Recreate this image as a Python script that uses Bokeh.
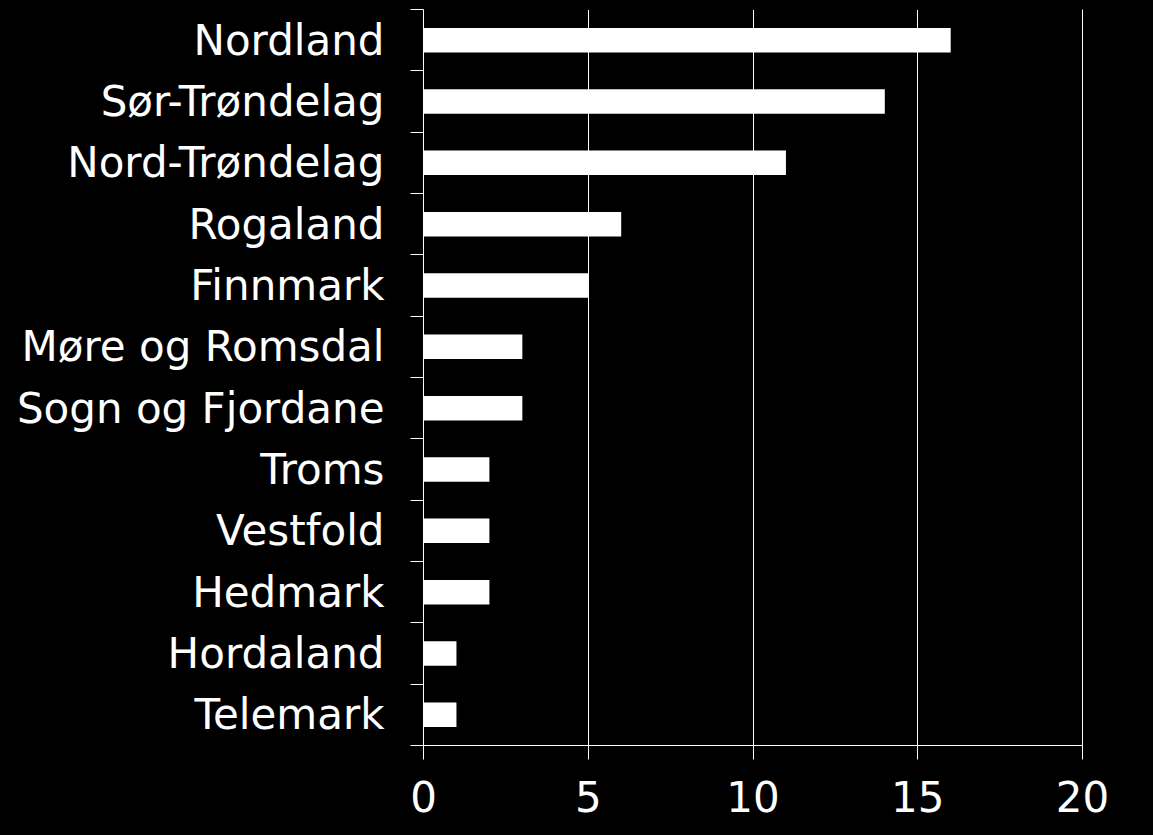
from bokeh.plotting import figure
from bokeh.models import FixedTicker, ColumnDataSource, LinearAxis
from bokeh.embed import file_html
from bokeh.resources import INLINE

regions = ["Nordland", "Sør-Trøndelag", "Nord-Trøndelag", "Rogaland", "Finnmark",
           "Møre og Romsdal", "Sogn og Fjordane", "Troms", "Vestfold", "Hedmark",
           "Hordaland", "Telemark"]
counts = [16, 14, 11, 6, 5, 3, 3, 2, 2, 2, 1, 1]
x_ticks = [0, 5, 10, 15, 20]

n = len(regions)
ypos = [n - i - 0.5 for i in range(n)]
src = ColumnDataSource(dict(y=ypos, v=counts, name=regions))

p = figure(width=1153, height=835, x_range=(0, 20), y_range=(0, n),
           output_backend="svg", toolbar_location=None,
           min_border_left=423, min_border_right=71, min_border_top=9, min_border_bottom=90)
p.background_fill_color = "black"
p.border_fill_color = "black"
p.outline_line_color = None
p.styles = {"background-color": "black"}

p.hbar(y="y", right="v", left=0, height=0.4, source=src, fill_color="white", line_color=None)

font = "DejaVu Sans"
# y axis
p.yaxis.ticker = FixedTicker(ticks=ypos, minor_ticks=list(range(0, n + 1)))
p.yaxis.major_label_overrides = {y: r for y, r in zip(ypos, regions)}
p.yaxis.major_tick_out = 0
p.yaxis.major_tick_in = 0
p.yaxis.minor_tick_out = 13
p.yaxis.minor_tick_in = 0
p.yaxis.minor_tick_line_color = "white"
p.yaxis.axis_line_color = "white"
p.yaxis.major_label_text_color = "white"
p.yaxis.major_label_text_font = font
p.yaxis.major_label_text_font_size = "42px"
p.yaxis.major_label_standoff = 26

# x axis
p.xaxis.ticker = FixedTicker(ticks=x_ticks, minor_ticks=[])
p.xaxis.major_tick_out = 14
p.xaxis.major_tick_in = 0
p.xaxis.major_tick_line_color = "white"
p.xaxis.axis_line_color = "white"
p.xaxis.major_label_text_color = "white"
p.xaxis.major_label_text_font = font
p.xaxis.major_label_text_font_size = "42px"
p.xaxis.major_label_standoff = 21

# right edge line (gridline at 20) and a black top edge
right_ax = LinearAxis(ticker=FixedTicker(ticks=[]), axis_line_color="white",
                      major_tick_out=0, major_tick_in=0, minor_tick_out=0, minor_tick_in=0,
                      major_label_text_font_size="0px", major_label_standoff=0)
p.add_layout(right_ax, "right")
top_ax = LinearAxis(ticker=FixedTicker(ticks=[]), axis_line_color="black",
                    major_tick_out=0, major_tick_in=0, minor_tick_out=0, minor_tick_in=0,
                    major_label_text_font_size="0px", major_label_standoff=0)
p.add_layout(top_ax, "above")

p.xgrid.ticker = FixedTicker(ticks=x_ticks[1:])
p.xgrid.grid_line_color = "white"
p.xgrid.grid_line_width = 1
p.ygrid.grid_line_color = None

open("out.html", "w").write(file_html(p, INLINE))
